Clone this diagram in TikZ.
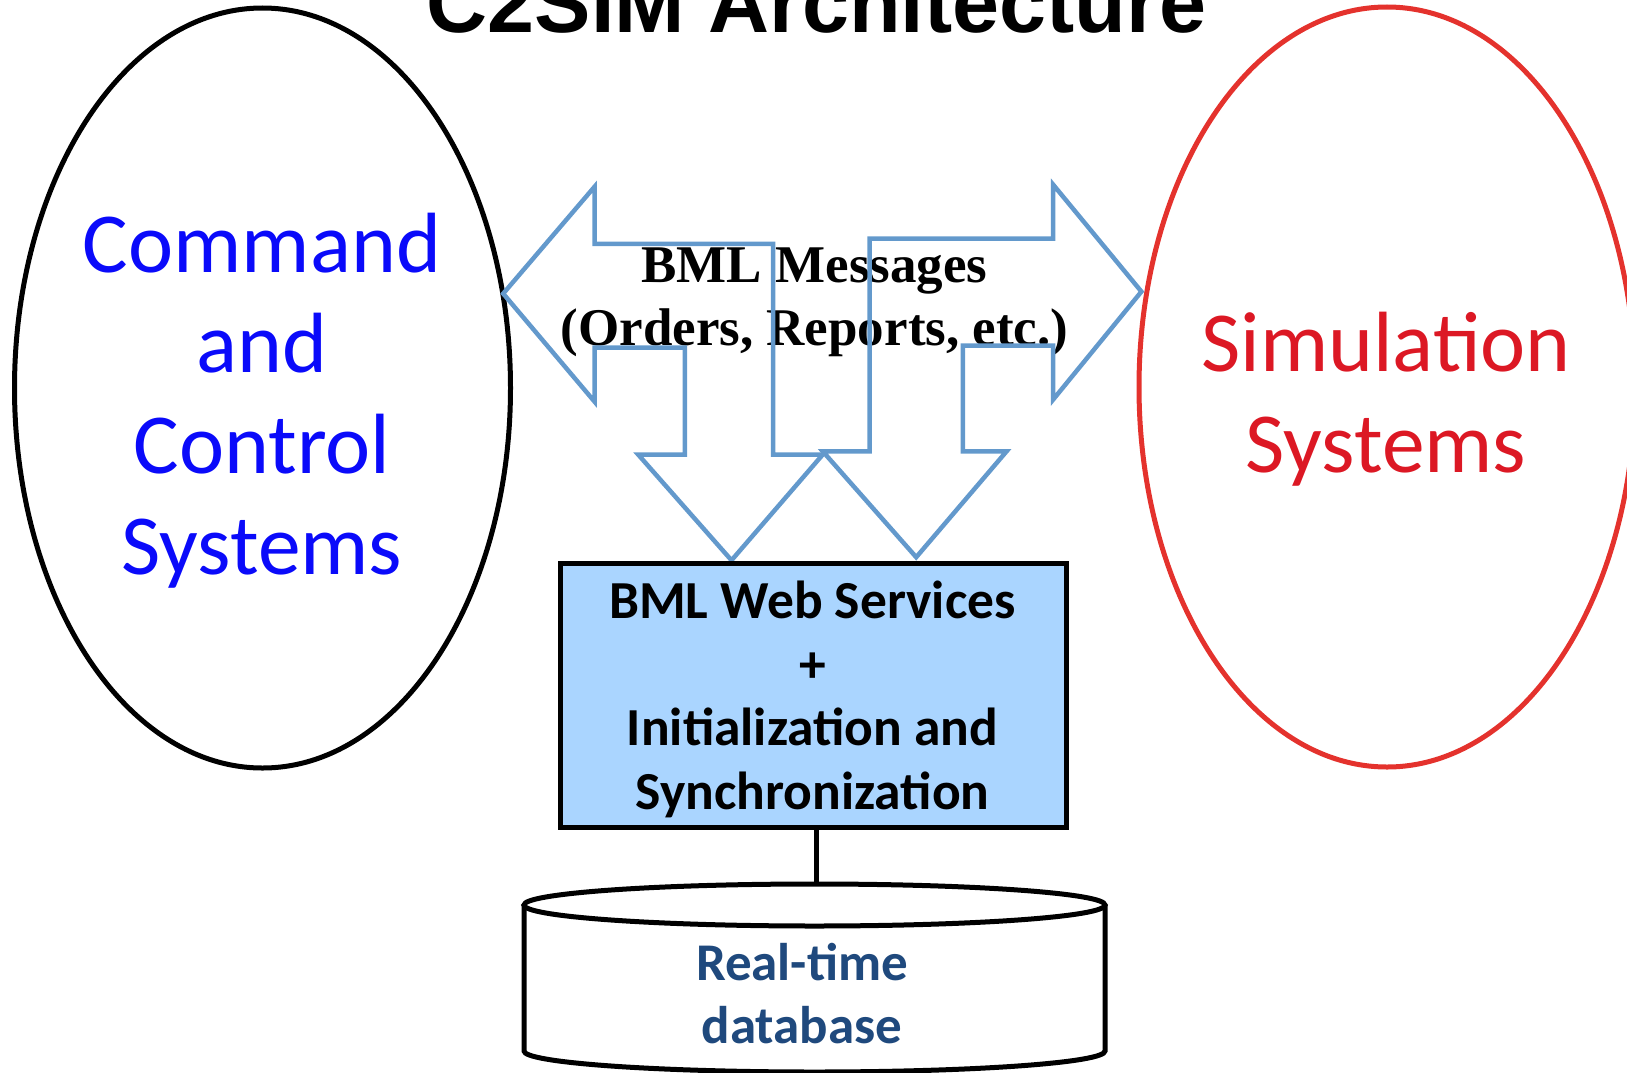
\documentclass[tikz,border=0pt]{standalone}
\usepackage{fontspec}
\setmainfont{Carlito}
\newfontfamily\headfont{Liberation Sans}
\newfontfamily\msgfont{Liberation Serif}
\usepackage{tikz}
\usetikzlibrary{shapes.geometric, positioning}
\definecolor{arrowblue}{RGB}{99,153,204}
\definecolor{boxblue}{RGB}{170,213,255}
\definecolor{simred}{RGB}{228,50,45}
\definecolor{simtext}{RGB}{220,24,36}
\definecolor{ctrlblue}{RGB}{10,10,250}
\definecolor{dbtext}{RGB}{31,73,125}

\begin{document}
\begin{tikzpicture}[x=1pt, y=-1pt,
  sysellipse/.style={ellipse, draw, line width=5pt, minimum width=496pt, minimum height=760pt, inner sep=0pt},
  bigtext/.style={align=center, anchor=base, font=\fontsize{85.5}{100.6}\selectfont},
  blockarrow/.style={draw=arrowblue, line width=4.5pt, line join=miter},
  wsbox/.style={draw, fill=boxblue, line width=5pt, minimum width=506pt, minimum height=263.6pt, inner sep=0pt},
  boldtext/.style={align=center, anchor=base, font=\bfseries\fontsize{53.5}{63.5}\selectfont},
  dbline/.style={line width=5pt}]
  \useasboundingbox (0,0) rectangle (1627,1073);
  \clip (0,0) rectangle (1627,1073);

  % Title
  \node[anchor=base, font=\headfont\bfseries\fontsize{84.5}{100}\selectfont] (title) at (816.5,33) {C2SIM Architecture};

  % Systems
  \node[sysellipse] (c2) at (262.5,388) {};
  \node[sysellipse, draw=simred] (sim) at (1387,387) {};
  \node[bigtext, text=ctrlblue] (c2txt) at (262,574) {Command\\and\\Control\\Systems};
  \node[bigtext, text=simtext] (simtxt) at (1386,472) {Simulation\\Systems};

  % Messages
  \node[anchor=base, align=center, font=\msgfont\bfseries\fontsize{53}{63.5}\selectfont] (msg) at (814.5,345.5) {BML Messages\\(Orders, Reports, etc.)};
  \draw[blockarrow] (503.2,293.6) -- (594.5,186.8) -- (594.5,243.8) -- (773,243.8) -- (773,454.5) -- (822.8,454.5) -- (731.5,560.3) -- (638.1,454.5) -- (684.8,454.5) -- (684.8,347.6) -- (594.5,347.6) -- (594.5,401.6) -- cycle;
  \draw[blockarrow] (1141.4,291.6) -- (1053.2,184.7) -- (1053.2,238.6) -- (869.5,238.6) -- (869.5,451.4) -- (822.8,451.4) -- (916.2,557.2) -- (1006.5,451.4) -- (962.9,451.4) -- (962.9,345.5) -- (1053.2,345.5) -- (1053.2,399.5) -- cycle;

  % Web services
  \node[wsbox] (ws) at (813.5,695.2) {};
  \node[boldtext] (wstxt) at (812.5,809) {BML Web Services\\+\\Initialization and\\Synchronization};

  % Real-time database
  \draw[dbline] (524,905) -- (524,1051) arc[start angle=180, end angle=0, x radius=290.5, y radius=21] -- (1105,905);
  \draw[dbline] (814.5,905) ellipse[x radius=290.5, y radius=21];
  \coordinate (dbtop) at (816.5,884);
  \node[boldtext, text=dbtext, font=\bfseries\fontsize{53}{62.5}\selectfont] (db) at (802,1043) {Real-time\\database};
  \draw[dbline] (ws.south -| dbtop) -- (dbtop);
\end{tikzpicture}
\end{document}
